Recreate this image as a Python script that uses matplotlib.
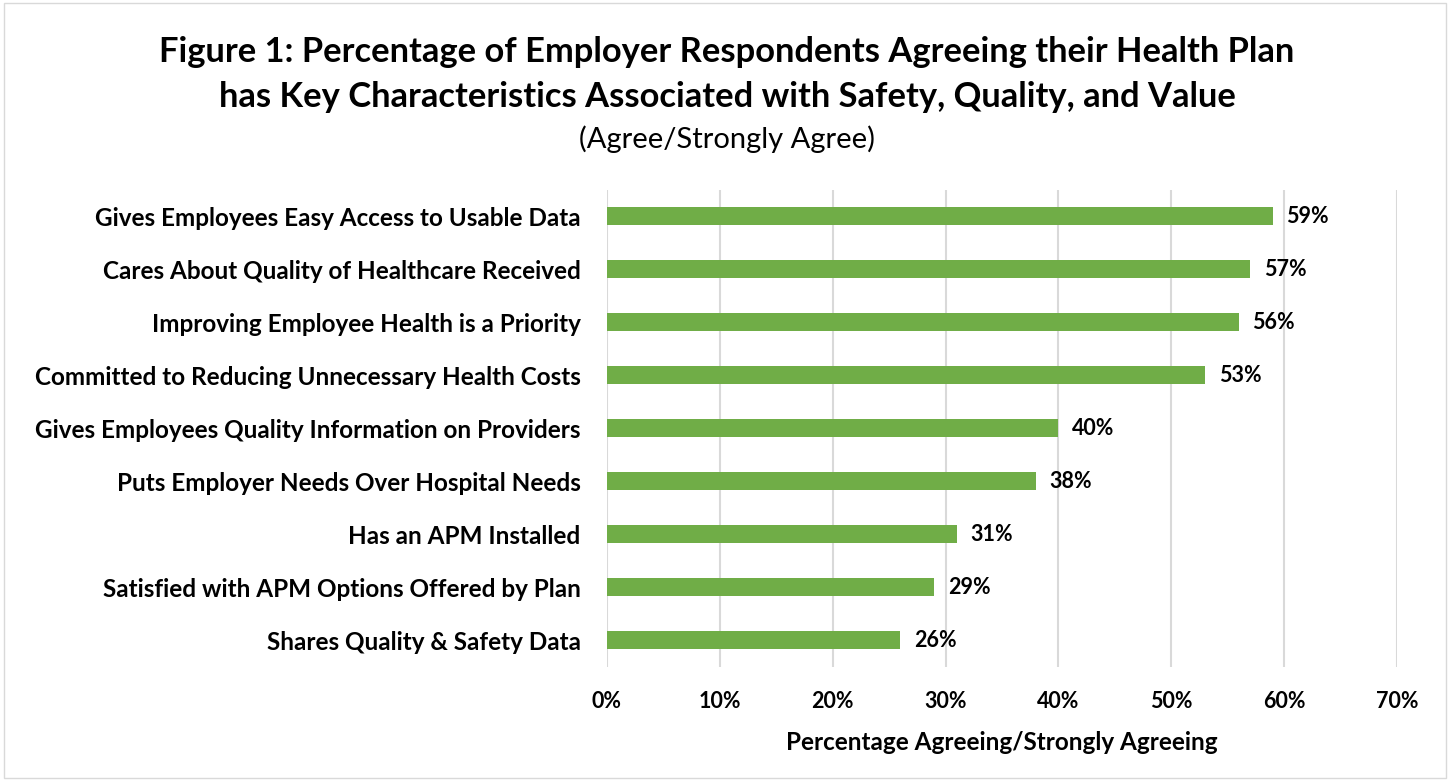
import matplotlib.pyplot as plt
from matplotlib.patches import Rectangle

plt.rcParams['font.family'] = ['Lato', 'DejaVu Sans']

categories = [
    'Gives Employees Easy Access to Usable Data',
    'Cares About Quality of Healthcare Received',
    'Improving Employee Health is a Priority',
    'Committed to Reducing Unnecessary Health Costs',
    'Gives Employees Quality Information on Providers',
    'Puts Employer Needs Over Hospital Needs',
    'Has an APM Installed',
    'Satisfied with APM Options Offered by Plan',
    'Shares Quality & Safety Data',
]
values = [59, 57, 56, 53, 40, 38, 31, 29, 26]
xticks = [0, 10, 20, 30, 40, 50, 60, 70]

green = '#70AD47'

fig = plt.figure(figsize=(14.5, 7.81), dpi=100)
ax = fig.add_axes([0.4186, 0.146, 0.5448, 0.611])

pos = list(range(len(categories)))[::-1]
ax.barh(pos, values, height=0.34, color=green, zorder=3)
for p, v in zip(pos, values):
    ax.text(v + 1.2, p, f'{v}%', va='center', ha='left', fontsize=15.5,
            fontweight='bold', color='black')

ax.set_xlim(0, 70)
ax.set_ylim(-0.5, len(categories) - 0.5)
ax.set_yticks(pos)
ax.set_yticklabels(categories, fontsize=17.5, fontweight='bold')
ax.set_xticks(xticks)
ax.set_xticklabels([f'{t}%' for t in xticks], fontsize=15.5, fontweight='bold')
ax.tick_params(axis='both', length=0)
ax.tick_params(axis='y', pad=19)
ax.tick_params(axis='x', pad=17)
ax.grid(axis='x', color='#D9D9D9', linewidth=1.5, zorder=0)
for s in ax.spines.values():
    s.set_visible(False)
ax.set_xlabel('Percentage Agreeing/Strongly Agreeing', fontsize=17.5,
              fontweight='bold', labelpad=14)

fig.text(0.5014, 0.905, 'Figure 1: Percentage of Employer Respondents Agreeing their Health Plan\n'
         'has Key Characteristics Associated with Safety, Quality, and Value',
         ha='center', va='center', fontsize=24.8, fontweight='bold', linespacing=1.5)
fig.text(0.5014, 0.822, '(Agree/Strongly Agree)', ha='center', va='center', fontsize=21)

fig.patches.append(Rectangle((0.003, 0.004), 0.994, 0.992, transform=fig.transFigure,
                             fill=False, edgecolor='#D9D9D9', linewidth=1))

fig.savefig('out.png', dpi=100)
